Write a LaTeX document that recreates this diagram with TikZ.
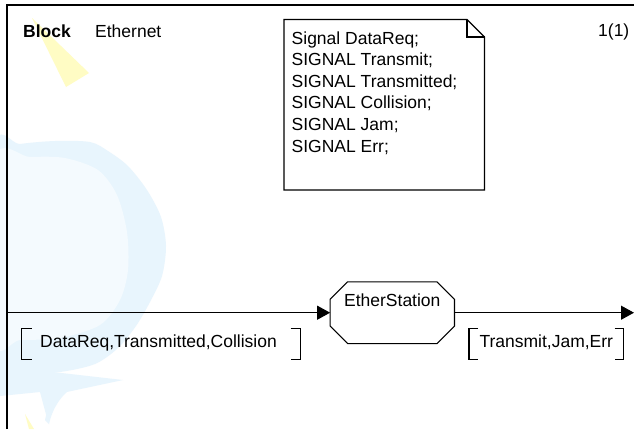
\documentclass[tikz,border=0pt]{standalone}
\usepackage{fontspec}
\setmainfont{Liberation Sans}
\usetikzlibrary{arrows.meta,calc,positioning}
\definecolor{blotblue}{RGB}{232,245,253}
\definecolor{blotpale}{RGB}{244,250,254}
\definecolor{blotyellow}{RGB}{255,252,196}

\begin{document}
\begin{tikzpicture}[x=1pt,y=-1pt,line join=miter,
  font=\fontsize{17.5}{13.4}\selectfont,
  frameline/.style={line width=1.1pt},
  sig/.style={line width=1.1pt,-{Triangle[length=13pt,width=14pt]}},
  txt/.style={inner sep=0pt,anchor=base west},
  stationbox/.style={inner sep=0pt,minimum width=124pt,minimum height=61.3pt}]
 \useasboundingbox[fill=white] (0,0) rectangle (634,429);
 % faint logo behind the page
 \fill[blotblue] plot[smooth cycle] coordinates {(-6,150) (20,144) (55,141) (90,142)
  (108,151) (128,166) (147,190) (161,217) (166,246) (162,276) (150,302)
  (136,326) (118,348) (95,364) (60,372) (20,374) (-6,374)};
 \fill[blotpale] plot[smooth cycle] coordinates {(-6,160) (30,157) (65,158) (98,170)
  (117,195) (127,232) (128,270) (120,300) (100,325) (60,338) (20,340) (-6,340)};
 \fill[blotblue] (0,366) -- (123,380) -- (62,393) -- (47,418) -- (40,392) -- (0,396) -- cycle;
 \fill[blotblue] (75,386) .. controls (60,395) and (52,410) .. (49,424) -- (45,420)
  .. controls (48,405) and (55,392) .. (66,386) -- cycle;
 \fill[blotyellow] (32,18) -- (89,73) -- (66,87) -- cycle;
 \fill[blotyellow] (25,414) -- (34,429) -- (29,429) -- cycle;
 % page frame
 \draw[frameline] (7,429) -- (7,5) -- (634,5);
 % heading
 \node[txt,font=\fontsize{17.5}{13.4}\selectfont\bfseries] (kind) at (23,37) {Block};
 \node[txt] (blockname) at (95,37) {Ethernet};
 \node[txt] (pageno) at (598,36) {1(1)};
 % text symbol with the signal declarations
 \draw[frameline] (284,19.5) -- (467,19.5) -- (484.5,37) -- (484.5,190) -- (284,190) -- cycle;
 \draw[frameline] (467,19.5) -- (467,37) -- (484.5,37);
 \foreach \decl [count=\i] in {Signal DataReq;,SIGNAL Transmit;,SIGNAL Transmitted;,
   SIGNAL Collision;,SIGNAL Jam;,SIGNAL Err;}
  \node[txt] (decl\i) at (291.5,{22.35+21.65*\i}) {\decl};
 % the process
 \node[stationbox] (station) at (392.3,312.7) {};
 \draw[frameline] ([xshift=17.5pt]station.north west) -- ([xshift=-17.5pt]station.north east)
  -- ([yshift=-17.5pt]station.north east) -- ([yshift=17.5pt]station.south east)
  -- ([xshift=-17.5pt]station.south east) -- ([xshift=17.5pt]station.south west)
  -- ([yshift=17.5pt]station.south west) -- ([yshift=-17.5pt]station.north west) -- cycle;
 \node[inner sep=0pt] (stationname) at ([yshift=-18pt]station.north) {EtherStation};
 % channels
 \coordinate (envin) at (7,312.7);
 \coordinate (envout) at (634,312.7);
 \draw[sig] (envin) -- (station.west);
 \draw[sig] (station.east) -- (envout);
 % signal lists
 \node[txt] (inlist) at (40,347.3) {DataReq,Transmitted,Collision};
 \draw[frameline] (31.7,328.3) -- (21.7,328.3) -- (21.7,359.3) -- (31.7,359.3);
 \draw[frameline] (290.5,328.3) -- (300.5,328.3) -- (300.5,359.3) -- (290.5,359.3);
 \node[txt] (outlist) at (479.3,347.3) {Transmit,Jam,Err};
 \draw[frameline] (478,328.3) -- (469,328.3) -- (469,359.3) -- (478,359.3);
 \draw[frameline] (614.5,328.3) -- (623.3,328.3) -- (623.3,359.3) -- (614.5,359.3);
\end{tikzpicture}
\end{document}
